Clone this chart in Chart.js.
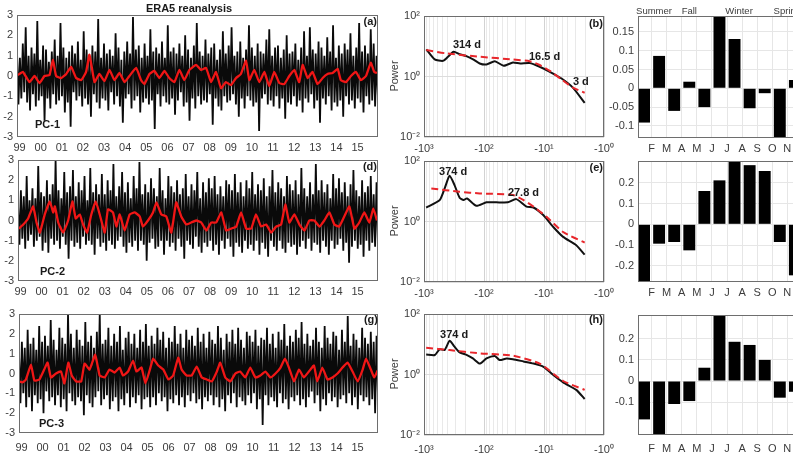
<!DOCTYPE html>
<html><head><meta charset="utf-8">
<script src="https://cdn.jsdelivr.net/npm/chart.js@4.4.1/dist/chart.umd.min.js"></script>
<style>
html,body{margin:0;padding:0;background:#fff;overflow:hidden;width:793px;height:456px;position:relative;}
canvas{position:absolute;left:0;top:0;}
</style></head><body>
<canvas id="a" width="830" height="456"></canvas>
<canvas id="d" width="830" height="456"></canvas>
<canvas id="g" width="830" height="456"></canvas>
<canvas id="b" width="830" height="456"></canvas>
<canvas id="e" width="830" height="456"></canvas>
<canvas id="h" width="830" height="456"></canvas>
<canvas id="c" width="830" height="456"></canvas>
<canvas id="f" width="830" height="456"></canvas>
<canvas id="i" width="830" height="456"></canvas>
<script>
// ---------------- DATA ----------------
const yearTickValues = [1999,2000,2001,2002,2003,2004,2005,2006,2007,2008,2009,2010,2011,2012,2013,2014,2015];
const yearTickLabels = ['99','00','01','02','03','04','05','06','07','08','09','10','11','12','13','14','15'];
const seriesStart = 1998.88, seriesEnd = 2015.97;

const pc1Raw = [1.2,-1.4,0.9,-1.1,1.6,-0.8,2.4,-1.3,1.0,-1.7,
1.4,-0.9,1.1,-1.5,2.7,-1.2,0.8,-1.0,1.5,-2.2,
1.3,-1.1,0.7,-1.6,1.2,-0.9,1.8,-1.4,1.0,-1.2,
2.6,-1.0,1.4,-1.8,0.9,-1.3,1.2,-2.5,1.5,-0.8,
1.1,-1.2,1.7,-1.0,0.8,-1.5,2.2,-1.1,1.3,-1.4,
1.0,-2.0,1.5,-0.9,1.2,-1.3,2.8,-1.6,0.9,-1.1,
1.6,-1.2,1.1,-1.7,1.3,-0.8,1.0,-1.4,2.1,-1.0,
1.4,-1.5,0.8,-2.3,1.2,-1.1,1.7,-0.9,1.1,-1.6,
2.9,-1.2,1.3,-1.0,1.5,-1.8,0.9,-1.3,1.6,-1.1,
1.0,-1.4,2.3,-1.2,1.2,-2.6,1.4,-0.9,1.1,-1.5,
1.7,-1.0,0.9,-1.3,2.5,-1.4,1.2,-1.1,1.4,-1.9,
1.1,-1.2,1.6,-0.8,1.0,-1.5,2.0,-1.3,1.3,-2.2,
0.9,-1.1,1.5,-1.6,2.6,-1.0,1.2,-1.4,1.0,-1.2,
1.8,-1.3,1.1,-0.9,1.4,-2.4,1.6,-1.1,0.8,-1.5,
1.3,-1.7,2.2,-1.0,1.1,-1.3,1.5,-1.2,2.4,-0.9,
1.0,-1.4,1.2,-2.0,1.7,-1.1,0.9,-1.6,1.3,-1.0,
2.5,-1.2,1.4,-1.5,1.0,-1.3,1.6,-2.7,1.2,-1.1,
1.1,-0.9,1.8,-1.4,2.3,-1.2,1.0,-1.5,1.4,-1.0,
1.5,-1.6,0.9,-1.1,1.3,-2.1,2.0,-1.3,1.1,-1.4,
1.2,-1.0,1.6,-1.5,0.8,-1.2,1.4,-1.8,2.2,-1.1,
1.0,-1.3,2.4,-0.9,1.3,-1.6,1.1,-1.2,1.7,-2.3,
1.4,-1.1,1.0,-1.4,1.9,-1.0,1.2,-1.7,2.5,-1.3,
0.9,-1.5,1.5,-1.2,1.1,-2.0,1.6,-1.0,1.3,-1.4,
2.1,-1.2,1.0,-1.6,1.4,-1.1,2.6,-1.3,1.2,-1.8,
1.5,-1.0,1.1,-1.4,2.3,-1.2,1.6,-1.5,1.0,-1.1];
const pc1SmoothYears = [1998.92,1999.16,1999.47,1999.71,1999.95,2000.18,2000.42,2000.58,2000.73,2000.97,
2001.21,2001.44,2001.68,2001.92,2002.15,2002.31,2002.55,2002.78,2003.02,2003.26,
2003.49,2003.73,2003.97,2004.20,2004.52,2004.75,2004.91,2005.15,2005.38,2005.62,
2005.86,2006.09,2006.33,2006.57,2006.80,2007.04,2007.36,2007.59,2007.83,2008.07,
2008.30,2008.54,2008.77,2009.01,2009.25,2009.48,2009.72,2009.88,2010.11,2010.35,
2010.59,2010.82,2011.06,2011.30,2011.53,2011.77,2012.01,2012.24,2012.40,2012.64,
2012.87,2013.11,2013.35,2013.58,2013.82,2014.06,2014.21,2014.45,2014.69,2014.92,
2015.16,2015.40,2015.63,2015.79,2015.92];
const pc1Smooth = [0.05,0.2,-0.3,0.0,-0.35,0.0,0.05,0.8,0.0,-0.1,
0.1,0.45,-0.1,-0.2,0.2,1.05,-0.3,0.1,-0.25,0.3,
-0.2,0.15,-0.3,0.0,0.4,-0.2,-0.4,0.1,0.25,-0.1,
0.25,-0.1,-0.3,0.3,-0.2,0.3,0.55,0.3,0.4,-0.3,
0.2,-0.6,-0.3,-0.45,-0.1,0.1,0.75,-0.2,0.3,-0.3,
0.2,-0.5,0.2,-0.35,-0.4,0.0,0.3,-0.3,0.55,-0.1,
0.2,-0.4,-0.1,0.1,0.15,0.35,-0.2,-0.3,0.0,0.2,
-0.2,0.0,0.65,0.2,0.15];

const pc2Raw = [0.8,-1.2,1.5,-0.9,1.2,-1.4,2.2,-1.0,1.0,-0.7,
1.6,-1.3,1.1,-1.0,2.7,-0.8,1.4,-1.5,1.2,-1.1,
2.0,-1.6,1.3,-0.9,1.8,-1.2,3.0,-1.0,1.5,-1.4,
1.1,-0.8,2.4,-1.2,1.4,-1.9,1.7,-1.0,2.5,-1.3,
1.2,-1.1,1.9,-1.4,1.5,-0.8,2.2,-1.2,1.0,-1.0,
2.6,-1.2,1.4,-1.7,1.8,-0.9,1.3,-1.3,2.3,-1.1,
1.3,-1.5,2.0,-1.0,1.5,-1.2,2.8,-1.4,1.2,-1.0,
1.7,-0.8,2.4,-1.3,1.4,-1.6,1.9,-1.1,1.1,-1.3,
2.2,-1.0,1.6,-1.5,2.9,-1.0,1.3,-1.2,1.8,-2.0,
1.4,-1.1,2.1,-0.9,1.6,-1.4,1.2,-1.3,2.6,-1.0,
1.5,-1.7,1.1,-1.0,2.2,-1.3,1.7,-1.1,1.4,-1.5,
2.0,-0.9,1.3,-1.3,1.6,-1.9,2.3,-1.0,1.2,-1.2,
1.8,-1.4,1.5,-0.8,2.4,-1.3,1.1,-1.6,1.9,-1.1,
1.4,-1.3,2.1,-1.0,1.6,-1.5,2.2,-1.2,1.3,-1.7,
1.7,-1.0,1.2,-1.4,2.0,-0.9,1.8,-1.3,1.5,-1.8,
2.3,-1.1,1.4,-1.3,1.9,-1.6,1.2,-1.0,2.0,-1.4,
1.6,-1.2,2.4,-1.5,1.3,-1.0,1.8,-1.7,1.5,-1.1,
2.1,-1.4,1.2,-1.8,1.7,-1.0,2.5,-1.3,1.4,-1.5,
1.9,-1.0,1.6,-1.4,1.2,-1.6,2.2,-1.1,1.8,-1.3,
1.5,-1.2,2.0,-1.7,1.3,-1.3,2.6,-1.0,1.6,-1.4,
1.2,-0.9,1.9,-1.5,1.3,-1.1,2.8,-1.2,1.5,-1.6,
2.0,-1.0,1.4,-1.3,1.8,-1.7,1.1,-1.0,2.3,-1.4,
1.6,-1.2,2.1,-0.9,1.4,-1.5,1.9,-1.1,1.2,-2.1,
1.8,-1.3,2.5,-1.0,1.5,-1.4,1.2,-1.2,2.0,-1.8,
1.4,-1.0,1.7,-1.5,2.2,-1.1,1.3,-1.3,1.9,-1.2];
const pc2SmoothYears = [1998.92,1999.13,1999.36,1999.60,1999.76,1999.92,2000.15,2000.39,2000.55,2000.63,
2000.79,2001.02,2001.26,2001.46,2001.62,2001.81,2001.97,2002.16,2002.36,2002.57,
2002.76,2003.00,2003.15,2003.39,2003.55,2003.71,2003.94,2004.18,2004.42,2004.66,
2004.81,2005.05,2005.29,2005.45,2005.68,2005.92,2006.16,2006.39,2006.63,2006.87,
2007.10,2007.34,2007.58,2007.82,2008.05,2008.29,2008.53,2008.76,2009.00,2009.24,
2009.47,2009.71,2009.95,2010.18,2010.42,2010.66,2010.90,2011.13,2011.37,2011.57,
2011.76,2012.00,2012.24,2012.48,2012.71,2012.95,2013.19,2013.42,2013.66,2013.90,
2014.13,2014.37,2014.61,2014.85,2015.08,2015.32,2015.56,2015.75,2015.92];
const pc2Smooth = [-0.4,-0.2,0.1,0.7,-0.1,-0.6,0.3,0.95,0.4,0.7,
-0.1,-0.6,0.0,0.95,0.1,0.3,-0.2,-0.6,0.3,0.95,
0.3,-0.6,0.55,0.4,-0.3,0.3,-0.5,0.3,0.4,0.2,
-0.3,0.0,0.4,0.9,0.3,0.2,-0.6,0.9,0.2,-0.2,
-0.1,0.0,-0.1,-0.5,-0.1,-0.1,0.4,-0.5,-0.4,-0.3,
0.4,-0.4,-0.4,0.3,-0.3,-0.2,-0.6,-0.3,-0.2,0.8,
-0.1,0.3,-0.2,-0.5,0.0,0.0,-0.3,0.0,0.4,-0.2,
-0.3,0.2,0.7,-0.4,-0.1,0.4,-0.1,0.6,0.0];

const pc3Raw = [1.0,-1.5,1.6,-1.0,1.3,-1.7,2.2,-1.2,1.5,-1.9,
1.8,-1.1,1.2,-1.5,2.4,-1.3,1.6,-2.0,1.9,-0.9,
1.4,-1.4,2.7,-1.2,1.7,-1.6,1.2,-1.1,2.3,-1.7,
1.8,-1.3,1.5,-1.9,3.0,-1.0,2.0,-1.4,1.3,-1.6,
2.2,-1.2,1.7,-1.4,1.4,-2.1,2.6,-1.1,1.6,-1.5,
1.9,-1.7,1.3,-1.2,2.1,-0.9,3.0,-1.6,1.5,-1.3,
1.7,-1.1,2.3,-1.8,1.4,-1.4,2.0,-1.2,1.6,-1.9,
2.4,-1.3,1.2,-1.6,1.8,-1.0,2.1,-1.7,1.5,-1.2,
2.0,-1.5,1.3,-1.1,2.2,-1.8,1.6,-1.3,2.5,-1.2,
1.4,-1.7,1.9,-1.2,1.5,-1.6,2.3,-1.0,1.7,-1.4,
2.1,-1.2,1.3,-1.9,1.8,-1.3,1.6,-1.5,2.4,-1.1,
1.5,-1.6,2.0,-1.2,1.3,-1.7,2.2,-1.1,1.7,-1.4,
1.9,-1.0,1.4,-1.5,2.3,-1.3,1.6,-1.8,2.0,-1.2,
1.3,-1.4,2.1,-1.1,1.7,-1.6,1.5,-1.2,2.4,-1.7,
1.8,-1.3,1.2,-1.9,2.0,-1.1,1.6,-1.5,2.2,-1.0,
1.5,-1.7,2.3,-1.2,1.7,-1.4,1.3,-1.6,2.1,-1.1,
1.9,-1.5,1.6,-1.0,2.2,-1.8,1.4,-1.3,1.8,-2.6,
1.7,-1.1,2.3,-1.6,1.5,-1.2,2.0,-1.4,1.3,-1.7,
2.1,-1.0,1.7,-1.5,2.5,-1.3,1.4,-1.8,1.9,-1.2,
1.6,-1.4,2.2,-1.1,1.8,-1.6,2.6,-1.3,1.5,-1.7,
2.0,-1.2,1.4,-0.9,1.7,-1.5,2.3,-1.1,1.6,-1.9,
1.3,-1.3,2.4,-1.6,1.8,-1.0,1.5,-1.4,2.1,-1.2,
1.9,-1.7,1.2,-1.3,2.2,-1.1,1.6,-1.5,2.9,-1.0,
1.4,-1.6,2.0,-1.2,1.7,-1.8,1.3,-1.1,2.3,-1.4,
1.8,-1.2,1.5,-1.6,2.1,-1.3,1.6,-2.0,1.9,-1.2];
const pc3SmoothYears = [1998.88,1999.05,1999.21,1999.45,1999.61,1999.85,2000.08,2000.24,2000.40,2000.64,
2000.88,2001.04,2001.23,2001.39,2001.60,2001.84,2002.00,2002.24,2002.51,2002.72,
2002.96,2003.19,2003.43,2003.67,2003.83,2004.07,2004.31,2004.47,2004.71,2004.90,
2005.11,2005.27,2005.51,2005.75,2005.99,2006.22,2006.46,2006.62,2006.86,2007.10,
2007.34,2007.58,2007.82,2008.06,2008.30,2008.46,2008.70,2008.94,2009.18,2009.41,
2009.65,2009.89,2010.13,2010.37,2010.61,2010.85,2011.09,2011.33,2011.54,2011.73,
2011.97,2012.21,2012.44,2012.68,2012.92,2013.08,2013.32,2013.56,2013.80,2014.04,
2014.28,2014.52,2014.76,2015.00,2015.24,2015.40,2015.63,2015.79,2015.95];
const pc3Smooth = [-0.4,-0.45,-0.3,0.45,-0.35,-0.3,0.2,0.55,-0.2,0.0,
0.1,-0.5,0.55,-0.1,-0.4,-0.4,0.5,0.2,0.95,-0.1,
-0.2,0.2,0.05,0.3,-0.1,0.1,0.65,0.1,0.3,-0.5,
0.2,0.75,0.4,0.2,-0.3,-0.1,0.8,0.2,-0.1,-0.1,
0.35,-0.2,-0.3,-0.4,0.1,0.55,-0.2,-0.4,0.0,0.1,
-0.2,0.3,-0.2,-0.1,0.1,-0.2,0.0,0.3,0.75,0.3,
-0.4,0.2,-0.2,0.1,0.4,-0.4,0.3,-0.3,-0.2,0.0,
0.3,0.55,0.1,-0.4,0.2,0.75,0.2,-0.2,0.15];

// power spectra (period in days, shown on a negative log axis)
const periodMajor = [1,10,100,1000];
const periodMajorLabels = ['-10\u2070','-10\u00B9','-10\u00B2','-10\u00B3'];
const powerTicks = [0.01,1,100];
const powerTickLabels = ['10\u207B\u00B2','10\u2070','10\u00B2'];

const specBPeriod = [915,664,482,398,321,255,197,152,118,91,66,47,33,25,17.3,11.8,8.0,5.1,3.3,2.1];
const specBPower  = [7.9,3.7,3.3,4.5,6.6,5.5,4.7,3.7,2.7,2.5,3.2,2.26,2.9,2.7,2.8,2.1,1.43,0.86,0.43,0.134];
const specBFitPeriod = [915,425,118,33,17.3,11.8,8.0,5.1,3.3,2.1];
const specBFitPower  = [7.5,5.8,4.5,3.66,3.2,2.4,1.54,0.8,0.43,0.29];

const specEPeriod = [920,548,453,374,310,255,219,192,134,91,62,40,29,19.6,15,10.2,7.0,4.8,2.9,2.1];
const specEPower  = [2.9,5.1,12.4,32.6,16,6.1,5.1,5.8,3.3,4.3,4.3,4.3,5.5,3.1,2.9,1.6,0.66,0.31,0.165,0.08];
const specEFitPeriod = [755,255,118,33,22,15,9.1,4.8,2.1];
const specEFitPower  = [12.4,9.6,8.5,7.5,5.1,3.1,1.43,0.45,0.2];

const specHPeriod = [920,660,550,453,374,310,255,192,153,118,91,66,55,42,33,22,15,10.2,7.0,4.8,2.9,2.1];
const specHPower  = [4.6,4.4,6.8,6.5,13,8.3,5.4,4.4,3.4,2.3,3.4,4.1,3.0,3.4,3.2,2.7,2.3,1.8,0.96,0.55,0.31,0.155];
const specHFitPeriod = [920,374,118,33,11.8,4.8,2.1];
const specHFitPower  = [7.7,6.4,5.0,4.2,2.3,0.61,0.31];

// monthly composites (Jan..Nov visible)
const monthIndex = [1,2,3,4,5,6,7,8,9,10,11];
const monthTickPos = [1.5,2.5,3.5,4.5,5.5,6.5,7.5,8.5,9.5,10.5,11.5];
const monthTickLabels = ['F','M','A','M','J','J','A','S','O','N','D'];
const barC = [-0.091,0.086,-0.060,0.0175,-0.050,0.192,0.131,-0.053,-0.013,-0.132,0.022];
const barF = [-0.277,-0.093,-0.085,-0.125,0.160,0.211,0.304,0.284,0.256,-0.085,-0.245];
const barI = [-0.182,-0.256,-0.109,-0.095,0.063,0.313,0.186,0.171,0.100,-0.079,-0.051];
const seasonNames = ['Summer','Fall','Winter','Spring'];
const seasonPos = [1.66,4.0,7.3,10.5];

// ---------------- RENDER ----------------
const W = 830, H = 456, XH = 18;
Chart.defaults.font.family = '"Liberation Sans", Arial, Helvetica, sans-serif';
Chart.defaults.font.size = 11;
Chart.defaults.color = '#3c3c3c';
Chart.defaults.animation = false;

const deco = {
  id: 'deco',
  afterDraw(chart, args, o) {
    const ctx = chart.ctx, ca = chart.chartArea;
    ctx.save();
    ctx.strokeStyle = '#6e6e6e'; ctx.lineWidth = 1;
    ctx.strokeRect(Math.round(ca.left) + 0.5, Math.round(ca.top) + 0.5, Math.round(ca.right - ca.left) - 1, Math.round(ca.bottom - ca.top) - 1);
    (o.texts || []).forEach(t => {
      let x, y;
      if (t.xv !== undefined) x = chart.scales.x.getPixelForValue(t.xv);
      else x = (t.ax === 'right' ? ca.right : ca.left) + t.dx;
      if (t.yv !== undefined) y = chart.scales.y.getPixelForValue(t.yv);
      else y = (t.ay === 'bottom' ? ca.bottom : ca.top) + t.dy;
      ctx.font = t.font || 'bold 11px "Liberation Sans", Arial, sans-serif';
      ctx.fillStyle = t.color || '#1a1a1a';
      ctx.textAlign = t.align || 'left';
      ctx.textBaseline = 'middle';
      if (t.rot) { ctx.save(); ctx.translate(x, y); ctx.rotate(t.rot); ctx.fillText(t.text, 0, 0); ctx.restore(); }
      else ctx.fillText(t.text, x, y);
    });
    ctx.restore();
  }
};
Chart.register(deco);

function pad(area, yw) {
  return { left: area.l - yw, top: area.t, right: W - area.r, bottom: H - area.b - XH };
}
const baseOpts = { responsive: false, animation: false, events: [] };

function tsChart(id, area, raw, smY, sm, texts, tickPad) {
  const n = raw.length, dt = (seriesEnd - seriesStart) / (n - 1);
  new Chart(document.getElementById(id), {
    type: 'line',
    data: { datasets: [
      { data: sm.map((v, i) => ({ x: smY[i], y: v })), borderColor: '#f01616', borderWidth: 2.3, pointRadius: 0, tension: 0.12, order: 0 },
      { data: raw.map((v, i) => ({ x: seriesStart + i * dt, y: v })), borderColor: '#0a0a0a', borderWidth: 1.8, pointRadius: 0, tension: 0, order: 1 }
    ] },
    options: Object.assign({}, baseOpts, {
      layout: { padding: pad(area, 16) },
      plugins: { legend: { display: false }, tooltip: { enabled: false }, deco: { texts } },
      scales: {
        x: { type: 'linear', min: seriesStart, max: seriesEnd, grid: { display: false, drawTicks: false }, border: { display: false },
             afterFit: s => { s.height = XH; },
             afterBuildTicks: s => { s.ticks = yearTickValues.map(v => ({ value: v })); },
             ticks: { autoSkip: false, maxRotation: 0, padding: tickPad, callback: (v, i) => yearTickLabels[i] } },
        y: { min: -3, max: 3, grid: { display: false, drawTicks: false }, border: { display: false },
             afterFit: s => { s.width = 16; },
             ticks: { stepSize: 1, padding: 4 } }
      }
    })
  });
}

const logGrid = [];
[1, 10, 100].forEach(d => { for (let k = 1; k < 10; k++) logGrid.push(d * k); });
logGrid.push(1000);

function specChart(id, area, per, pow, fper, fpow, texts, tickPad) {
  new Chart(document.getElementById(id), {
    type: 'line',
    data: { datasets: [
      { data: fper.map((p, i) => ({ x: p, y: fpow[i] })), borderColor: '#e8262b', borderWidth: 2, borderDash: [7, 4], pointRadius: 0, tension: 0.2, order: 0 },
      { data: per.map((p, i) => ({ x: p, y: pow[i] })), borderColor: '#111', borderWidth: 2, pointRadius: 0, tension: 0.2, order: 1 }
    ] },
    options: Object.assign({}, baseOpts, {
      layout: { padding: pad(area, 30) },
      plugins: { legend: { display: false }, tooltip: { enabled: false }, deco: { texts } },
      scales: {
        x: { type: 'logarithmic', reverse: true, min: 1, max: 1000, border: { display: false },
             afterFit: s => { s.height = XH; },
             afterBuildTicks: s => { s.ticks = logGrid.map(v => ({ value: v })); },
             grid: { drawTicks: false, color: c => (c.tick && periodMajor.includes(c.tick.value)) ? '#d2d2d2' : '#e9e9e9' },
             ticks: { autoSkip: false, maxRotation: 0, padding: tickPad,
                      callback: v => { const k = periodMajor.indexOf(v); return k >= 0 ? periodMajorLabels[k] : ''; } } },
        y: { type: 'logarithmic', min: 0.01, max: 100, border: { display: false },
             afterFit: s => { s.width = 30; },
             afterBuildTicks: s => { s.ticks = powerTicks.map(v => ({ value: v })); },
             grid: { drawTicks: false, color: '#dcdcdc' },
             ticks: { padding: 4, callback: v => { const k = powerTicks.indexOf(v); return k >= 0 ? powerTickLabels[k] : ''; } } }
      }
    })
  });
}

function barChart(id, area, vals, step, texts, tickPad) {
  const lo = Math.min(...vals), hi = Math.max(...vals);
  new Chart(document.getElementById(id), {
    type: 'bar',
    data: { datasets: [
      { data: vals.map((v, i) => ({ x: monthIndex[i], y: v })), backgroundColor: '#000', borderWidth: 0, barPercentage: 0.79, categoryPercentage: 1 }
    ] },
    options: Object.assign({}, baseOpts, {
      layout: { padding: pad(area, 30) },
      plugins: { legend: { display: false }, tooltip: { enabled: false }, deco: { texts } },
      scales: {
        x: { type: 'linear', min: 0.6, max: 12.4, offset: false, border: { display: false },
             afterFit: s => { s.height = XH; },
             afterBuildTicks: s => { s.ticks = monthTickPos.map(v => ({ value: v })); },
             grid: { offset: false, drawTicks: false, color: '#e6e6e6' },
             ticks: { autoSkip: false, maxRotation: 0, padding: tickPad, callback: (v, i) => monthTickLabels[i] } },
        y: { type: 'linear', min: lo, max: hi, border: { display: false },
             afterFit: s => { s.width = 30; },
             afterBuildTicks: s => { s.ticks = s.ticks.filter(t => Math.abs(t.value / step - Math.round(t.value / step)) < 1e-6); },
             grid: { drawTicks: false, color: '#e6e6e6' },
             ticks: { stepSize: step, padding: 4, callback: v => String(+v.toFixed(3)) } }
      }
    })
  });
}

const plainF = '11px "Liberation Sans", Arial, sans-serif';
const seasonF = '9.5px "Liberation Sans", Arial, sans-serif';

tsChart('a', { l: 17, t: 15, r: 378, b: 137 }, pc1Raw, pc1SmoothYears, pc1Smooth, [
  { text: 'ERA5 reanalysis', ax: 'left', dx: 172, ay: 'top', dy: -6, align: 'center' },
  { text: '(a)', ax: 'right', dx: -1, ay: 'top', dy: 7, align: 'right' },
  { text: 'PC-1', ax: 'left', dx: 18, ay: 'bottom', dy: -12 }
], 4);
tsChart('d', { l: 18, t: 160, r: 378, b: 281 }, pc2Raw, pc2SmoothYears, pc2Smooth, [
  { text: '(d)', ax: 'right', dx: -1, ay: 'top', dy: 7, align: 'right' },
  { text: 'PC-2', ax: 'left', dx: 22, ay: 'bottom', dy: -9 }
], 4);
tsChart('g', { l: 19, t: 314, r: 378, b: 433 }, pc3Raw, pc3SmoothYears, pc3Smooth, [
  { text: '(g)', ax: 'right', dx: 0, ay: 'top', dy: 6, align: 'right' },
  { text: 'PC-3', ax: 'left', dx: 20, ay: 'bottom', dy: -9 }
], 8);

const powerLbl = { text: 'Power', ax: 'left', dx: -29, ay: 'top', dy: 60, align: 'center', font: plainF, color: '#3c3c3c', rot: -Math.PI / 2 };
specChart('b', { l: 424, t: 16, r: 604, b: 137 }, specBPeriod, specBPower, specBFitPeriod, specBFitPower, [
  powerLbl,
  { text: '(b)', ax: 'right', dx: -1, ay: 'top', dy: 8, align: 'right' },
  { text: '314 d', xv: 330, yv: 11 },
  { text: '16.5 d', xv: 17.8, yv: 4.4 },
  { text: '3 d', xv: 3.3, yv: 0.66 }
], 5);
specChart('e', { l: 424, t: 161, r: 604, b: 282 }, specEPeriod, specEPower, specEFitPeriod, specEFitPower, [
  powerLbl,
  { text: '(e)', ax: 'right', dx: -1, ay: 'top', dy: 7, align: 'right' },
  { text: '374 d', xv: 562, yv: 43 },
  { text: '27.8 d', xv: 40, yv: 8.6 }
], 5);
specChart('h', { l: 424, t: 314, r: 604, b: 435 }, specHPeriod, specHPower, specHFitPeriod, specHFitPower, [
  powerLbl,
  { text: '(h)', ax: 'right', dx: -1, ay: 'top', dy: 6, align: 'right' },
  { text: '374 d', xv: 541, yv: 20 }
], 8);

barChart('c', { l: 638, t: 16, r: 816, b: 138 }, barC, 0.05,
  seasonNames.map((s, k) => ({ text: s, xv: seasonPos[k], ay: 'top', dy: -5, align: 'center', font: seasonF, color: '#3c3c3c' })), 4);
barChart('f', { l: 638, t: 161, r: 816, b: 282 }, barF, 0.1, [], 4);
barChart('i', { l: 638, t: 315, r: 816, b: 435 }, barI, 0.1, [], 7);
</script>
</body></html>
